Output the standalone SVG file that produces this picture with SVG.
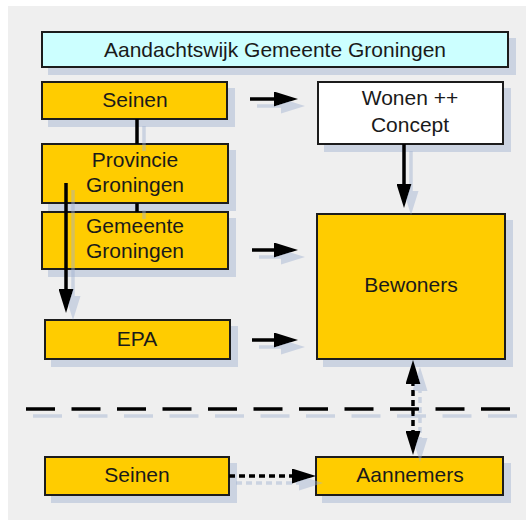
<svg xmlns="http://www.w3.org/2000/svg" width="526" height="520" viewBox="0 0 526 520">
  <defs>
    <filter id="sh" filterUnits="userSpaceOnUse" x="0" y="0" width="526" height="520">
      <feOffset in="SourceAlpha" dx="7" dy="7" result="off"/>
      <feFlood flood-color="#9fb0d0" flood-opacity="0.45"/>
      <feComposite in2="off" operator="in" result="shadow"/>
      <feMerge>
        <feMergeNode in="shadow"/>
        <feMergeNode in="SourceGraphic"/>
      </feMerge>
    </filter>
    <marker id="ah" markerUnits="userSpaceOnUse" markerWidth="24" markerHeight="15" refX="4" refY="7.5" orient="auto-start-reverse">
      <path d="M0,0 L24,7.5 L0,15 Z" fill="#000"/>
    </marker>
  </defs>
  <style>
    .box { stroke: #1a1a1a; stroke-width: 2; filter: url(#sh); }
    .gold { fill: #ffcc00; }
    .cyan { fill: #ccffff; }
    .white { fill: #ffffff; }
    .lbl { font-family: "Liberation Sans", Arial, sans-serif; font-size: 21px; fill: #1a1a1a; text-anchor: middle; }
    .con { stroke: #000; stroke-width: 3.5; fill: none; }
    .arr { marker-end: url(#ah); }
    .dot { stroke-dasharray: 6 4; }
  </style>

  <rect x="8" y="6" width="518" height="514" fill="#efefef"/>

  <g id="title">
    <rect class="box cyan" x="42" y="32" width="466" height="35"/>
    <text class="lbl" x="275" y="57">Aandachtswijk Gemeente Groningen</text>
  </g>
  <g id="seinen-top">
    <rect class="box gold" x="42" y="82" width="185" height="37"/>
    <text class="lbl" x="135" y="107">Seinen</text>
  </g>
  <g id="wonen">
    <rect class="box white" x="318" y="82" width="185" height="62"/>
    <text class="lbl" x="410" y="105">Wonen ++</text>
    <text class="lbl" x="410" y="132">Concept</text>
  </g>
  <g id="provincie">
    <rect class="box gold" x="42" y="144" width="186" height="59"/>
    <text class="lbl" x="135" y="167">Provincie</text>
    <text class="lbl" x="135" y="192">Groningen</text>
  </g>
  <g id="gemeente">
    <rect class="box gold" x="42" y="212" width="186" height="57"/>
    <text class="lbl" x="135" y="233">Gemeente</text>
    <text class="lbl" x="135" y="258">Groningen</text>
  </g>
  <g id="epa">
    <rect class="box gold" x="45" y="320" width="185" height="39"/>
    <text class="lbl" x="137" y="346">EPA</text>
  </g>
  <g id="bewoners">
    <rect class="box gold" x="317" y="214" width="188" height="145"/>
    <text class="lbl" x="411" y="292">Bewoners</text>
  </g>
  <g id="seinen-bottom">
    <rect class="box gold" x="45" y="457" width="184" height="38"/>
    <text class="lbl" x="137" y="482">Seinen</text>
  </g>
  <g id="aannemers">
    <rect class="box gold" x="316" y="457" width="187" height="38"/>
    <text class="lbl" x="410" y="482">Aannemers</text>
  </g>

  <g id="connectors" filter="url(#sh)">
    <path class="con arr" d="M250,99 H278"/>
    <path class="con arr" d="M252,250 H278"/>
    <path class="con arr" d="M252,340 H278"/>
    <path class="con arr" d="M404,144 V188"/>
    <path class="con" d="M137,119 V144"/>
    <path class="con" d="M137,203 V212"/>
    <path class="con arr" d="M66,183 V293"/>
    <path class="con" d="M26,409 H512" stroke-width="4" stroke-dasharray="29 16.5"/>
    <path class="con arr dot" d="M413,380 V435" marker-start="url(#ah)"/>
    <path class="con arr dot" d="M229,476 H296"/>
  </g>
</svg>
